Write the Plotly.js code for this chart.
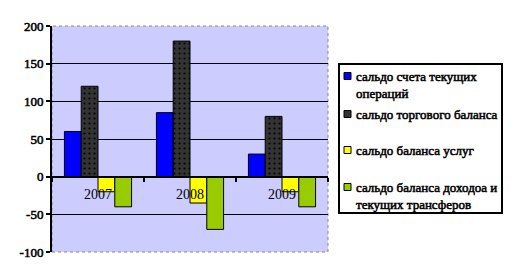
<!DOCTYPE html>
<html><head><meta charset="utf-8">
<script src="https://cdn.plot.ly/plotly-3.0.1.min.js"></script>
<style>
html,body{margin:0;padding:0;background:#fff}
.annotation-text, .ytick text { stroke: #000 !important; stroke-width: 0.55px !important; }
</style>
</head><body><div id="chart" style="width:514px;height:279px"></div>
<script>
const years = ['2007', '2008', '2009'];
const seriesNames = [
  'сальдо счета текущих<br>операций',
  'сальдо торгового баланса',
  'сальдо баланса услуг',
  'сальдо баланса доходоа и<br>текущих трансферов'
];
const currentAccount = [60, 85, 30];
const tradeBalance = [120, 180, 80];
const servicesBalance = [-20, -35, -20];
const incomeTransfers = [-40, -70, -40];
const yTicks = [-100, -50, 0, 50, 100, 150, 200];

const SERIF = 'Liberation Serif, Times New Roman, serif';
const colors = ['#0000ff', '#333333', '#ffff00', '#99cc00'];
const values = [currentAccount, tradeBalance, servicesBalance, incomeTransfers];
const traces = values.map((v, i) => {
  const m = {color: colors[i], line: {color: '#000', width: 1}};
  if (i === 1) m.pattern = {shape: '.', fgcolor: '#000000', bgcolor: '#333333', size: 5, solidity: 0.15};
  return {type: 'bar', x: years, y: v, name: seriesNames[i], marker: m};
});

// plot area in pixels (for converting legend box placement to paper coords)
const W = 514, H = 279, ML = 52, MR = 186, MT = 26, MB = 27;
const PW = W - ML - MR, PH = H - MT - MB;
const px = x => (x - ML) / PW;
const py = y => (H - MB - y) / PH;

// custom legend box
const legendBox = {left: 339, right: 502, top: 64, bottom: 213};
const itemCenters = [76, 114, 150, 187];
const shapes = [
  {type: 'rect', xref: 'paper', yref: 'paper', x0: 0, x1: 1, y0: 0, y1: 1,
   line: {color: '#888', width: 1, dash: 'dot'}, layer: 'below'},
  {type: 'rect', xref: 'paper', yref: 'paper',
   x0: px(legendBox.left), x1: px(legendBox.right), y0: py(legendBox.bottom), y1: py(legendBox.top),
   line: {color: '#000', width: 2}, fillcolor: '#ffffff', layer: 'above'}
];
const annotations = [];
seriesNames.forEach((name, i) => {
  const cy = itemCenters[i];
  shapes.push({type: 'rect', xref: 'paper', yref: 'paper',
    x0: px(344), x1: px(351), y0: py(cy + 3.5), y1: py(cy - 3.5),
    line: {color: '#000', width: 1}, fillcolor: colors[i], layer: 'above'});
  annotations.push({xref: 'paper', yref: 'paper', x: px(354), y: py(cy - 9.5),
    xanchor: 'left', yanchor: 'top', align: 'left', showarrow: false,
    text: name, font: {family: SERIF, size: 13, color: '#000'}});
});

const layout = {
  width: W, height: H,
  margin: {l: ML, r: MR, t: MT, b: MB},
  paper_bgcolor: '#ffffff',
  plot_bgcolor: '#ccccff',
  barmode: 'group', bargap: 0.27, bargroupgap: 0,
  showlegend: false,
  xaxis: {
    type: 'category', anchor: 'free', position: 1/3,
    showline: true, linecolor: '#000', linewidth: 2,
    ticks: 'outside', tickson: 'boundaries', ticklen: 4, tickwidth: 2, tickcolor: '#000',
    ticklabelstandoff: 5,
    tickfont: {family: SERIF, size: 14, color: '#000'},
    showgrid: false, zeroline: false, fixedrange: true
  },
  yaxis: {
    range: [-100, 200], tickvals: yTicks, ticktext: yTicks.map(String),
    showline: true, linecolor: '#000', linewidth: 2,
    ticks: 'outside', ticklen: 4, tickwidth: 2, tickcolor: '#000',
    tickfont: {family: SERIF, size: 13, color: '#000'},
    showgrid: true, gridcolor: '#000', gridwidth: 1,
    zeroline: true, zerolinecolor: '#000', zerolinewidth: 2, fixedrange: true
  },
  shapes: shapes,
  annotations: annotations
};
Plotly.newPlot('chart', traces, layout, {displayModeBar: false, staticPlot: true});
</script></body></html>
